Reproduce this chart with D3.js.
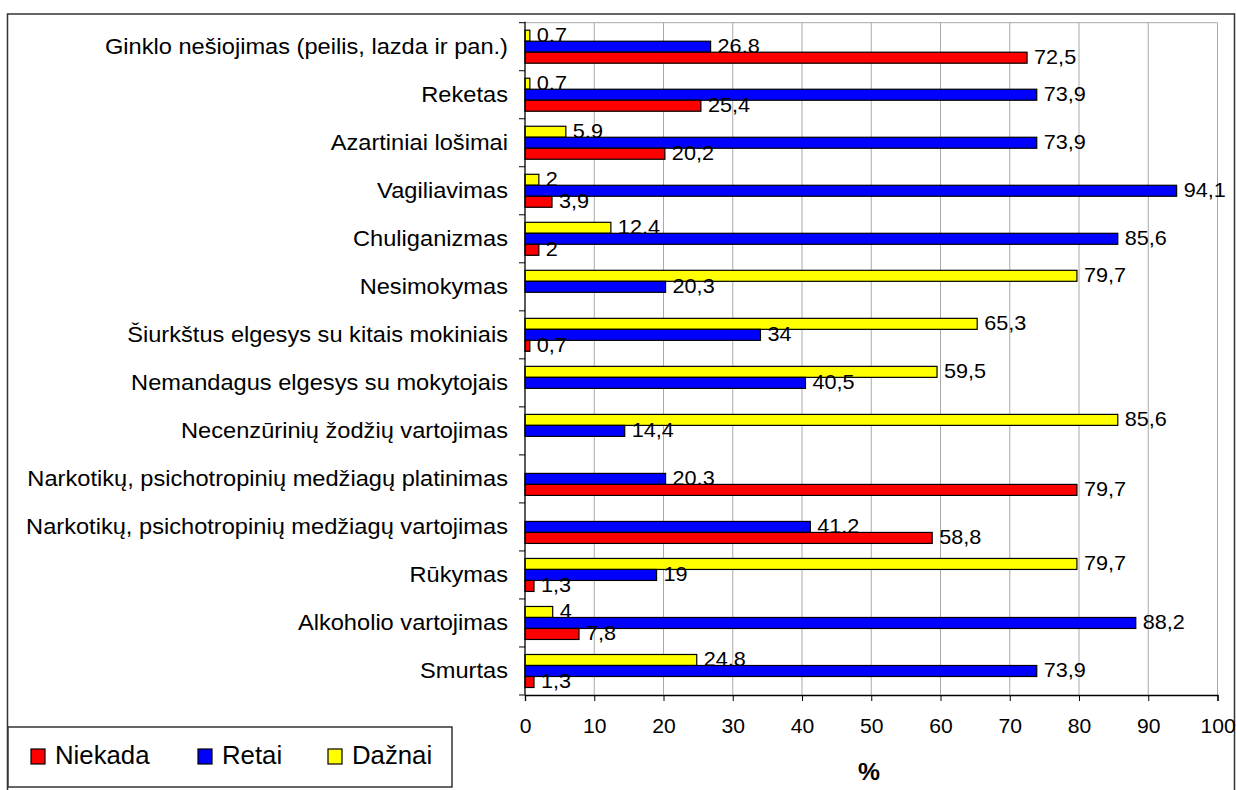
<!DOCTYPE html>
<html>
<head>
<meta charset="utf-8">
<script src="https://cdn.jsdelivr.net/npm/d3@7"></script>
<style>
  body { margin: 0; background: #fff; }
  text { font-family: "Liberation Sans", Arial, sans-serif; fill: #000; }
</style>
</head>
<body>
<div id="app"></div>
<script>
// data, top to bottom as shown
const categories = [
  "Ginklo nešiojimas (peilis, lazda ir pan.)",
  "Reketas",
  "Azartiniai lošimai",
  "Vagiliavimas",
  "Chuliganizmas",
  "Nesimokymas",
  "Šiurkštus elgesys su kitais mokiniais",
  "Nemandagus elgesys su mokytojais",
  "Necenzūrinių žodžių vartojimas",
  "Narkotikų, psichotropinių medžiagų platinimas",
  "Narkotikų, psichotropinių medžiagų vartojimas",
  "Rūkymas",
  "Alkoholio vartojimas",
  "Smurtas"
];
const niekada = [72.5, 25.4, 20.2, 3.9, 2, null, 0.7, null, null, 79.7, 58.8, 1.3, 7.8, 1.3];
const retai   = [26.8, 73.9, 73.9, 94.1, 85.6, 20.3, 34, 40.5, 14.4, 20.3, 41.2, 19, 88.2, 73.9];
const daznai  = [0.7, 0.7, 5.9, 2, 12.4, 79.7, 65.3, 59.5, 85.6, null, null, 79.7, 4, 24.8];
const xTicks = [0, 10, 20, 30, 40, 50, 60, 70, 80, 90, 100];

const series = [
  { key: "Dažnai", values: daznai, color: "#ffff00" },
  { key: "Retai", values: retai, color: "#0000ff" },
  { key: "Niekada", values: niekada, color: "#ff0000" }
];
const legendOrder = ["Niekada", "Retai", "Dažnai"];

const width = 1236
    , height = 790
    , x0 = 525
    , x1 = 1217.5
    , plotTop = 22.7
    , plotBottom = 695
    , groupH = 33
    , stretch = 1.03;

const locale = d3.formatLocale({ decimal: ",", thousands: " ", grouping: [3], currency: ["", ""] });
const fmt = locale.format("~f");

const svg = d3.select("#app").append("svg")
    .attr("width", width)
    .attr("height", height);

const x = d3.scaleLinear().domain([0, 100]).range([x0, x1]);
const y = d3.scaleBand().domain(categories).range([plotTop, plotBottom]);
const ySub = d3.scaleBand().domain(series.map(s => s.key)).range([0, groupH]);
const groupOff = (y.bandwidth() - groupH) / 2;

// outer frame
svg.append("rect")
    .attr("x", 7.5).attr("y", 14)
    .attr("width", 1227).attr("height", 820)
    .attr("fill", "none").attr("stroke", "#333").attr("stroke-width", 1.5);

// grid
svg.append("g").selectAll("line")
    .data(xTicks.slice(1))
  .enter().append("line")
    .attr("x1", d => x(d)).attr("x2", d => x(d))
    .attr("y1", plotTop).attr("y2", plotBottom)
    .attr("stroke", "#aaa").attr("stroke-width", 1);
svg.append("line")
    .attr("x1", x0).attr("x2", x1).attr("y1", plotTop).attr("y2", plotTop)
    .attr("stroke", "#aaa");

// bars
const rows = [];
series.forEach(s => s.values.forEach((v, i) => {
  if (v != null) rows.push({ cat: categories[i], key: s.key, v, color: s.color });
}));

const bar = svg.append("g").selectAll("g")
    .data(rows)
  .enter().append("g");

bar.append("rect")
    .attr("x", x(0))
    .attr("y", d => y(d.cat) + groupOff + ySub(d.key))
    .attr("width", d => x(d.v) - x(0))
    .attr("height", ySub.bandwidth())
    .attr("fill", d => d.color)
    .attr("stroke", "#000")
    .attr("stroke-width", 1.2);

bar.append("text")
    .attr("class", "lbl")
    .attr("x", d => x(d.v) + 7)
    .attr("y", d => y(d.cat) + groupOff + ySub(d.key) + ySub.bandwidth() / 2 + 6)
    .style("font-size", "21px")
    .text(d => fmt(d.v));

// x axis
const xAxis = svg.append("g")
    .attr("transform", `translate(0,${plotBottom})`)
    .call(d3.axisBottom(x).tickValues(xTicks).tickSize(6).tickPadding(17));
xAxis.select(".domain").attr("stroke", "#000").attr("stroke-width", 1.3);
xAxis.selectAll(".tick line").attr("stroke", "#000");
xAxis.selectAll("text")
    .style("font-size", "20.5px")
    .attr("fill", "#000");

// y axis
svg.append("line")
    .attr("x1", x0).attr("x2", x0).attr("y1", plotTop - 1).attr("y2", plotBottom)
    .attr("stroke", "#000").attr("stroke-width", 1.3);
svg.append("g").selectAll("line")
    .data(d3.range(categories.length + 1))
  .enter().append("line")
    .attr("x1", x0 - 6).attr("x2", x0)
    .attr("y1", i => plotTop + i * y.step()).attr("y2", i => plotTop + i * y.step())
    .attr("stroke", "#000");
svg.append("g").selectAll("text")
    .data(categories)
  .enter().append("text")
    .attr("class", "cat")
    .attr("x", 508)
    .attr("y", d => y(d) + y.bandwidth() / 2 + 7.5)
    .attr("text-anchor", "end")
    .style("font-size", "22.5px")
    .text(d => d);

// axis title
svg.append("text")
    .attr("x", 869).attr("y", 780)
    .attr("text-anchor", "middle")
    .style("font-size", "24px")
    .style("font-weight", "bold")
    .text("%");

// legend
const legend = svg.append("g");
legend.append("rect")
    .attr("x", 8).attr("y", 727)
    .attr("width", 444).attr("height", 60)
    .attr("fill", "#fff").attr("stroke", "#333").attr("stroke-width", 1.5);
const legendX = [31, 198, 328];
const item = legend.selectAll(".item")
    .data(legendOrder)
  .enter().append("g")
    .attr("class", "item")
    .attr("transform", (d, i) => `translate(${legendX[i]},749)`);
item.append("rect")
    .attr("width", 14).attr("height", 15)
    .attr("fill", d => series.find(s => s.key === d).color)
    .attr("stroke", "#000").attr("stroke-width", 1.2);
item.append("text")
    .attr("x", 24).attr("y", 15)
    .style("font-size", "25px")
    .text(d => d);

// the original is stretched a little horizontally
svg.selectAll("text").each(function() {
  const w = this.getComputedTextLength();
  const k = this.classList.contains("cat") ? 1.05 : stretch;
  if (w > 0) {
    this.setAttribute("textLength", w * k);
    this.setAttribute("lengthAdjust", "spacingAndGlyphs");
  }
});
</script>
</body>
</html>
